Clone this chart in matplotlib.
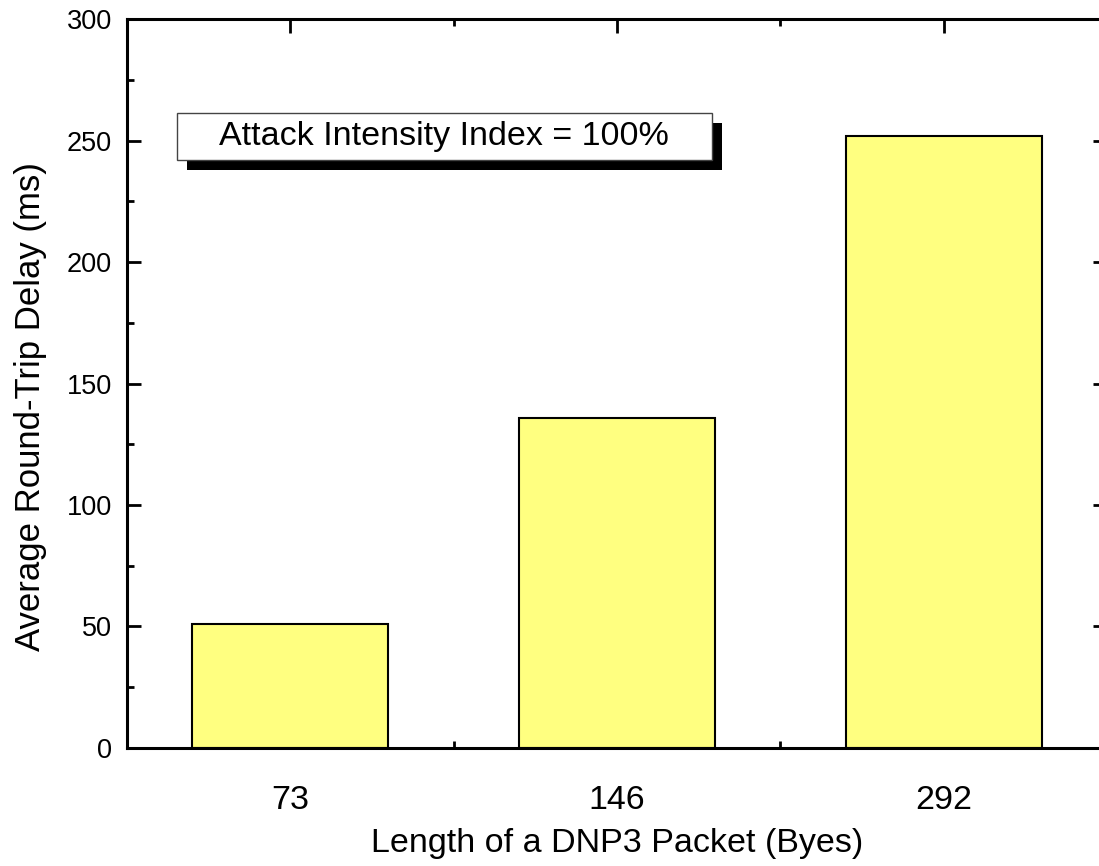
import matplotlib
matplotlib.use("Agg")
import matplotlib.pyplot as plt
from matplotlib.ticker import MultipleLocator, FixedLocator
from matplotlib.patches import Rectangle

packet_lengths = ["73", "146", "292"]
avg_delay = [51, 136, 252]
legend_text = "Attack Intensity Index = 100%"

plt.rcParams['font.family'] = ['Liberation Sans', 'DejaVu Sans']

fig = plt.figure(figsize=(10.99, 8.66), dpi=100)
ax = fig.add_axes([0.1156, 0.1363, 0.8918, 0.8417])

x = list(range(len(packet_lengths)))
ax.bar(x, avg_delay, width=0.6, color="#FFFF80", edgecolor="black", linewidth=1.5, zorder=2)

ax.set_xlim(-0.5, len(packet_lengths) - 0.5)
ax.set_ylim(0, 300)
ax.set_xticks(x)
ax.set_xticklabels(packet_lengths)
ax.xaxis.set_minor_locator(FixedLocator([i + 0.5 for i in x[:-1]]))
ax.yaxis.set_major_locator(MultipleLocator(50))
ax.yaxis.set_minor_locator(MultipleLocator(25))

for s in ax.spines.values():
    s.set_linewidth(2.2)
ax.tick_params(which="both", direction="in", top=True, right=True, width=2, zorder=3)
ax.tick_params(which="major", length=10)
ax.tick_params(which="minor", length=5)
ax.tick_params(axis="x", which="major", labelsize=24.5, pad=27)
ax.tick_params(axis="y", which="major", labelsize=19.5, pad=11)

ax.set_xlabel("Length of a DNP3 Packet (Byes)", fontsize=24.5, labelpad=8)
ax.set_ylabel("Average Round-Trip Delay (ms)", fontsize=25, labelpad=14)
ax.yaxis.label.set_y(0.469)

# legend-like box with a hard black shadow
bx, by, bw, bh = 0.0511, 0.8066, 0.5454, 0.0645
ax.add_patch(Rectangle((bx + 0.0102, by - 0.0137), bw, bh, transform=ax.transAxes,
                       facecolor="black", edgecolor="none", zorder=4))
ax.add_patch(Rectangle((bx, by), bw, bh, transform=ax.transAxes,
                       facecolor="white", edgecolor="#444444", linewidth=1, zorder=5))
ax.text(bx + bw / 2, by + bh / 2, legend_text, transform=ax.transAxes, fontsize=24.5,
        ha="center", va="center", zorder=6)

fig.savefig("out.png", dpi=100)
